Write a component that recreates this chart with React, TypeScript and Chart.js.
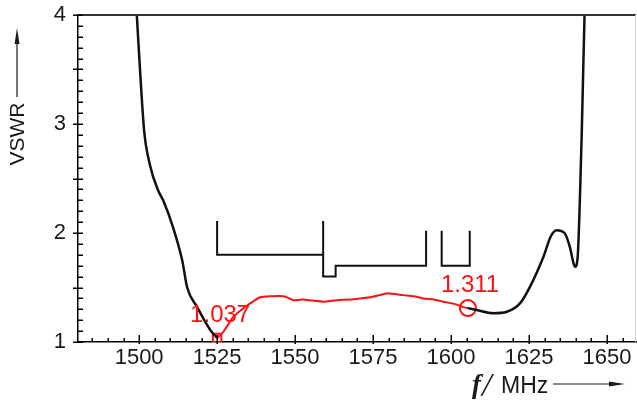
import React, { useEffect, useRef } from 'react';
import { Chart, registerables } from 'chart.js';

Chart.register(...registerables);

const X_MIN = 1480.4;
const X_MAX = 1659.3;
const Y_MIN = 1;
const Y_MAX = 4;
const xTickLabels = [1500, 1525, 1550, 1575, 1600, 1625, 1650];
const yTickLabels = [1, 2, 3, 4];
const xMinorStep = 5;
const yMinorStep = 0.1;

// black simulated curve, lower band edge
const lowFreq = [1498.6, 1499.25, 1500.3, 1501.6, 1503.5, 1506.1, 1507.7, 1510.9, 1513.8, 1515.4, 1518.6, 1522.8, 1525.0];
const lowVswr = [4.3, 4.0, 3.49, 2.94, 2.62, 2.39, 2.30, 2.05, 1.75, 1.50, 1.32, 1.11, 1.037];

// red measured section
const midFreq = [1525.0, 1527.0, 1530.2, 1533.0, 1535.6, 1538.8, 1542.0, 1546.3, 1549.5, 1552.6, 1555.5, 1559.0, 1563.4, 1567.6, 1571.0, 1574.0, 1577.0, 1579.4, 1582.0, 1584.7, 1588.0, 1591.1, 1594.5, 1597.5, 1601.0, 1603.9, 1605.4];
const midVswr = [1.037, 1.094, 1.23, 1.30, 1.354, 1.41, 1.42, 1.42, 1.384, 1.39, 1.38, 1.37, 1.384, 1.39, 1.40, 1.41, 1.43, 1.446, 1.44, 1.43, 1.42, 1.40, 1.39, 1.37, 1.35, 1.32, 1.311];

// black simulated curve, upper band edge
const highFreq = [1605.4, 1608.2, 1613.6, 1617.9, 1622.1, 1625.3, 1629.6, 1632.0, 1633.9, 1636.5, 1638.1, 1639.3, 1639.8, 1640.6, 1641.3, 1641.9, 1642.4, 1642.8, 1643.0];
const highVswr = [1.311, 1.293, 1.263, 1.277, 1.354, 1.506, 1.78, 1.97, 2.025, 1.995, 1.87, 1.72, 1.69, 1.78, 2.30, 2.91, 3.52, 4.0, 4.3];

// band masks
const maskAFreq = [1525, 1525, 1559, 1559, 1559, 1563, 1563, 1592, 1592];
const maskAVswr = [2.11, 1.8, 1.8, 2.11, 1.6, 1.6, 1.7, 1.7, 2.02];
const maskBFreq = [1597, 1597, 1606, 1606];
const maskBVswr = [2.02, 1.7, 1.7, 2.02];

// markers
const markerFreq = [1525, 1605.4];
const markerVswr = [1.037, 1.311];
const markerLabels = ['1.037', '1.311'];

const zip = (xs: number[], ys: number[]) => xs.map((x, i) => ({ x, y: ys[i] }));

const SANS = '"Liberation Sans", Arial, sans-serif';

const decorPlugin = {
  id: 'decor',
  afterDatasetsDraw(chart: any) {
    const { ctx, scales } = chart;
    const x = scales.x;
    const y = scales.y;
    ctx.save();
    ctx.fillStyle = '#ff1010';
    ctx.font = `24px ${SANS}`;
    ctx.textAlign = 'left';
    ctx.textBaseline = 'alphabetic';
    markerLabels.forEach((t, i) => {
      const px = x.getPixelForValue(markerFreq[i]);
      const py = y.getPixelForValue(markerVswr[i]);
      ctx.fillText(t, px - 27, py - 16);
    });
    ctx.restore();
  },
  afterDraw(chart: any) {
    const { ctx, chartArea: a, scales } = chart;
    const x = scales.x;
    const y = scales.y;
    ctx.save();
    // top frame
    ctx.strokeStyle = '#333';
    ctx.lineWidth = 2;
    ctx.beginPath();
    ctx.moveTo(a.left, a.top);
    ctx.lineTo(a.right, a.top);
    ctx.stroke();
    // right frame
    ctx.strokeStyle = '#cfcfcf';
    ctx.lineWidth = 1;
    ctx.beginPath();
    ctx.moveTo(a.right - 0.5, a.top);
    ctx.lineTo(a.right - 0.5, a.bottom);
    ctx.stroke();

    ctx.strokeStyle = '#000';
    ctx.lineWidth = 1.5;
    // y ticks
    const nY = Math.round((Y_MAX - Y_MIN) / yMinorStep);
    for (let i = 0; i <= nY; i++) {
      const v = Y_MIN + i * yMinorStep;
      const py = Math.round(y.getPixelForValue(v)) + 0.25;
      const crossing = i % 5 === 0;
      ctx.beginPath();
      ctx.moveTo(a.left - (crossing ? 5 : 0), py);
      ctx.lineTo(a.left + 5, py);
      ctx.stroke();
    }
    // x ticks
    const start = Math.ceil(X_MIN / xMinorStep) * xMinorStep;
    for (let v = start; v <= X_MAX; v += xMinorStep) {
      const px = Math.round(x.getPixelForValue(v)) + 0.25;
      const major = xTickLabels.includes(v);
      ctx.beginPath();
      ctx.moveTo(px, a.bottom + (major ? 2 : 0));
      ctx.lineTo(px, a.bottom - (major ? 7 : 4));
      ctx.stroke();
    }

    // y title with arrow
    ctx.fillStyle = '#1a1a1a';
    ctx.strokeStyle = '#1a1a1a';
    ctx.save();
    ctx.translate(24, 134);
    ctx.rotate(-Math.PI / 2);
    ctx.font = `21px ${SANS}`;
    ctx.textAlign = 'center';
    ctx.textBaseline = 'alphabetic';
    ctx.fillText('VSWR', 0, 0);
    ctx.restore();
    ctx.lineWidth = 1.2;
    ctx.beginPath();
    ctx.moveTo(17, 97);
    ctx.lineTo(17, 36);
    ctx.stroke();
    ctx.beginPath();
    ctx.moveTo(17, 28);
    ctx.lineTo(19.5, 44);
    ctx.lineTo(14.5, 44);
    ctx.closePath();
    ctx.fill();

    // x title with arrow
    ctx.textAlign = 'left';
    ctx.textBaseline = 'alphabetic';
    ctx.font = `italic bold 27px "Liberation Serif", serif`;
    ctx.fillText('f', 472, 393);
    ctx.font = `italic 34px "Liberation Serif", serif`;
    ctx.fillText('/', 482, 396);
    ctx.font = `23px ${SANS}`;
    ctx.fillText('MHz', 501, 393);
    ctx.lineWidth = 1.2;
    ctx.beginPath();
    ctx.moveTo(553, 384);
    ctx.lineTo(614, 384);
    ctx.stroke();
    ctx.beginPath();
    ctx.moveTo(625, 384);
    ctx.lineTo(609, 386.5);
    ctx.lineTo(609, 381.5);
    ctx.closePath();
    ctx.fill();
    ctx.restore();
  },
};

export default function App() {
  const ref = useRef<HTMLCanvasElement | null>(null);
  useEffect(() => {
    document.body.style.margin = '0';
    const canvas = ref.current;
    if (!canvas) return;
    const lineBase = { showLine: true, pointRadius: 0, fill: false };
    const chart = new Chart(canvas, {
      type: 'scatter',
      data: {
        datasets: [
          { ...lineBase, data: zip(maskAFreq, maskAVswr), borderColor: '#111', borderWidth: 2, tension: 0 },
          { ...lineBase, data: zip(maskBFreq, maskBVswr), borderColor: '#111', borderWidth: 2, tension: 0 },
          { ...lineBase, data: zip(lowFreq, lowVswr), borderColor: '#111', borderWidth: 2.5, cubicInterpolationMode: 'monotone' },
          { ...lineBase, data: zip(highFreq, highVswr), borderColor: '#111', borderWidth: 2.5, cubicInterpolationMode: 'monotone' },
          { ...lineBase, data: zip(midFreq, midVswr), borderColor: '#ff1010', borderWidth: 2, tension: 0.2 },
          {
            data: [{ x: markerFreq[0], y: markerVswr[0] }],
            showLine: false,
            pointStyle: 'rect',
            pointRadius: 6,
            borderColor: '#ff1010',
            backgroundColor: 'rgba(0,0,0,0)',
            borderWidth: 2,
          },
          {
            data: [{ x: markerFreq[1], y: markerVswr[1] }],
            showLine: false,
            pointStyle: 'circle',
            pointRadius: 8,
            borderColor: '#ff1010',
            backgroundColor: 'rgba(0,0,0,0)',
            borderWidth: 2,
          },
        ],
      } as any,
      options: {
        animation: false,
        responsive: false,
        maintainAspectRatio: false,
        layout: { autoPadding: false, padding: { top: 15, right: 1, left: 0, bottom: 0 } },
        plugins: { legend: { display: false }, tooltip: { enabled: false }, title: { display: false } },
        scales: {
          x: {
            type: 'linear',
            min: X_MIN,
            max: X_MAX,
            afterFit: (s: any) => { s.height = 61; s.paddingLeft = 0; s.paddingRight = 0; s.paddingTop = 0; s.paddingBottom = 0; },
            afterBuildTicks: (s: any) => { s.ticks = xTickLabels.map((v) => ({ value: v })); },
            ticks: {
              autoSkip: false,
              maxRotation: 0,
              padding: 3,
              color: '#1a1a1a',
              font: { family: SANS, size: 22 },
              callback: (v: any) => String(v),
            },
            grid: { display: true, drawOnChartArea: false, drawTicks: false },
            border: { display: true, color: '#000', width: 1.5 },
          },
          y: {
            type: 'linear',
            min: Y_MIN,
            max: Y_MAX,
            afterFit: (s: any) => { s.width = 78; s.paddingLeft = 0; s.paddingRight = 0; s.paddingTop = 0; s.paddingBottom = 0; },
            afterBuildTicks: (s: any) => { s.ticks = yTickLabels.map((v) => ({ value: v })); },
            ticks: {
              autoSkip: false,
              padding: 12,
              color: '#1a1a1a',
              font: { family: SANS, size: 22 },
              callback: (v: any) => String(v),
            },
            grid: { display: true, drawOnChartArea: false, drawTicks: false },
            border: { display: true, color: '#000', width: 1.5 },
          },
        },
      },
      plugins: [decorPlugin],
    } as any);
    return () => chart.destroy();
  }, []);
  return (
    <div style={{ width: 637, height: 403, background: '#fff' }}>
      <canvas ref={ref} width={637} height={403} style={{ display: 'block' }} />
    </div>
  );
}
